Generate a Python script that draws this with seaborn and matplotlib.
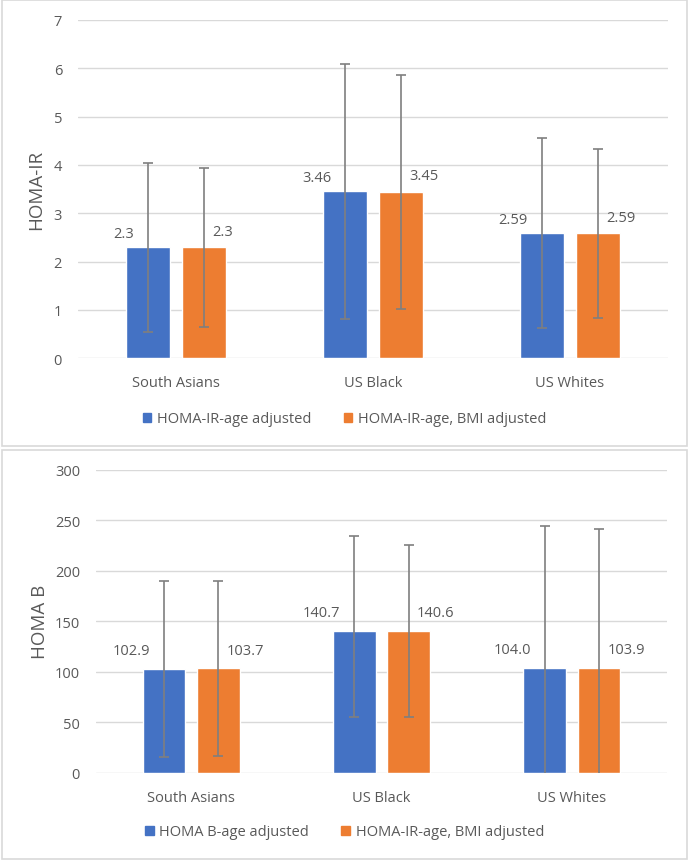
import pandas as pd
import matplotlib.pyplot as plt
import seaborn as sns
from matplotlib.patches import Rectangle, Patch

groups = ["South Asians", "US Black", "US Whites"]

# HOMA-IR panel
ir_age = [2.3, 3.46, 2.59]
ir_age_low = [0.55, 0.81, 0.63]
ir_age_high = [4.04, 6.09, 4.55]
ir_bmi = [2.3, 3.45, 2.59]
ir_bmi_low = [0.64, 1.03, 0.84]
ir_bmi_high = [3.94, 5.87, 4.33]
ir_labels = ["2.3", "3.46", "2.59", "2.3", "3.45", "2.59"]

# HOMA B panel
b_age = [102.9, 140.7, 104.0]
b_age_low = [16.1, 55.0, -36.7]
b_age_high = [190.0, 234.2, 244.7]
b_bmi = [103.7, 140.6, 103.9]
b_bmi_low = [17.1, 55.0, -33.2]
b_bmi_high = [190.0, 226.0, 241.0]
b_labels = ["102.9", "140.7", "104.0", "103.7", "140.6", "103.9"]

blue = "#4472C4"
orange = "#ED7D31"
txt = "#595959"
grid = "#D9D9D9"

sns.set_style("white")
plt.rcParams["font.family"] = ["Open Sans", "DejaVu Sans"]

fig = plt.figure(figsize=(6.89, 8.62), dpi=100)

# panel frames
fig.patches.append(Rectangle((2/689, 1-447/862), 685/689, 446/862, transform=fig.transFigure,
                             fill=False, edgecolor=grid, linewidth=1.2))
fig.patches.append(Rectangle((2/689, 1-860/862), 685/689, 409/862, transform=fig.transFigure,
                             fill=False, edgecolor=grid, linewidth=1.2))


def panel(rect, names, s1, s1_lo, s1_hi, s2, s2_lo, s2_hi, labels, ylab, ymax, step,
          leg1, leg2, leg_y, lab_dy, lpad):
    ax = fig.add_axes(rect)
    df = pd.DataFrame({
        "group": groups * 2,
        "value": s1 + s2,
        "series": [leg1] * 3 + [leg2] * 3,
    })
    sns.barplot(data=df, x="group", y="value", hue="series", order=names,
                palette=[blue, orange], saturation=1, width=0.57, gap=0.21, errorbar=None,
                legend=False, ax=ax)
    lows = [s1_lo, s2_lo]
    highs = [s1_hi, s2_hi]
    means = [s1, s2]
    bar_sets = list(ax.containers)
    k = 0
    for i, cont in enumerate(bar_sets):
        for j, bar in enumerate(cont):
            xc = bar.get_x() + bar.get_width() / 2
            m = means[i][j]
            ax.errorbar(xc, m, yerr=[[m - lows[i][j]], [highs[i][j] - m]],
                        fmt="none", ecolor="#7F7F7F", elinewidth=1.2, capsize=3.5, capthick=1.2)
            if i == 0:
                ax.annotate(labels[k], (xc, m), xytext=(-10, lab_dy[0]), textcoords="offset points",
                            ha="right", va="center", fontsize=10.5, color=txt)
            else:
                ax.annotate(labels[k], (xc, m), xytext=(6, lab_dy[1]), textcoords="offset points",
                            ha="left", va="center", fontsize=10.5, color=txt)
            k += 1
    ax.set_ylim(0, ymax)
    ax.set_yticks(range(0, int(ymax) + 1, step))
    ax.set_xlim(-0.5, 2.5)
    ax.yaxis.grid(True, color=grid, linewidth=1)
    ax.set_axisbelow(True)
    sns.despine(ax=ax, left=True, bottom=True)
    ax.tick_params(axis="both", length=0, labelsize=10.5, colors=txt)
    ax.tick_params(axis="y", pad=11.5)
    ax.tick_params(axis="x", pad=12)
    ax.set_xlabel("")
    ax.set_ylabel(ylab, fontsize=13.5, color=txt, labelpad=lpad)
    handles = [Patch(color=blue), Patch(color=orange)]
    fig.legend(handles, [leg1, leg2], loc="center", bbox_to_anchor=(0.5, leg_y), ncol=2,
               frameon=False, fontsize=10.5, labelcolor=txt, handlelength=0.6, handleheight=0.6,
               columnspacing=2.2, handletextpad=0.4)
    return ax


panel([78/689, 1-359.3/862, 590/689, 338.3/862], groups,
      ir_age, ir_age_low, ir_age_high, ir_bmi, ir_bmi_low, ir_bmi_high, ir_labels,
      "HOMA-IR", 7, 1, "HOMA-IR-age adjusted", "HOMA-IR-age, BMI adjusted", 1-420/862,
      (9.5, 11.5), 6)

panel([96/689, 1-774/862, 571/689, 303.3/862], groups,
      b_age, b_age_low, b_age_high, b_bmi, b_bmi_low, b_bmi_high, b_labels,
      "HOMA B", 300, 50, "HOMA B-age adjusted", "HOMA-IR-age, BMI adjusted", 1-833/862,
      (13, 13), 4.5)

fig.savefig("out.png", dpi=100)
